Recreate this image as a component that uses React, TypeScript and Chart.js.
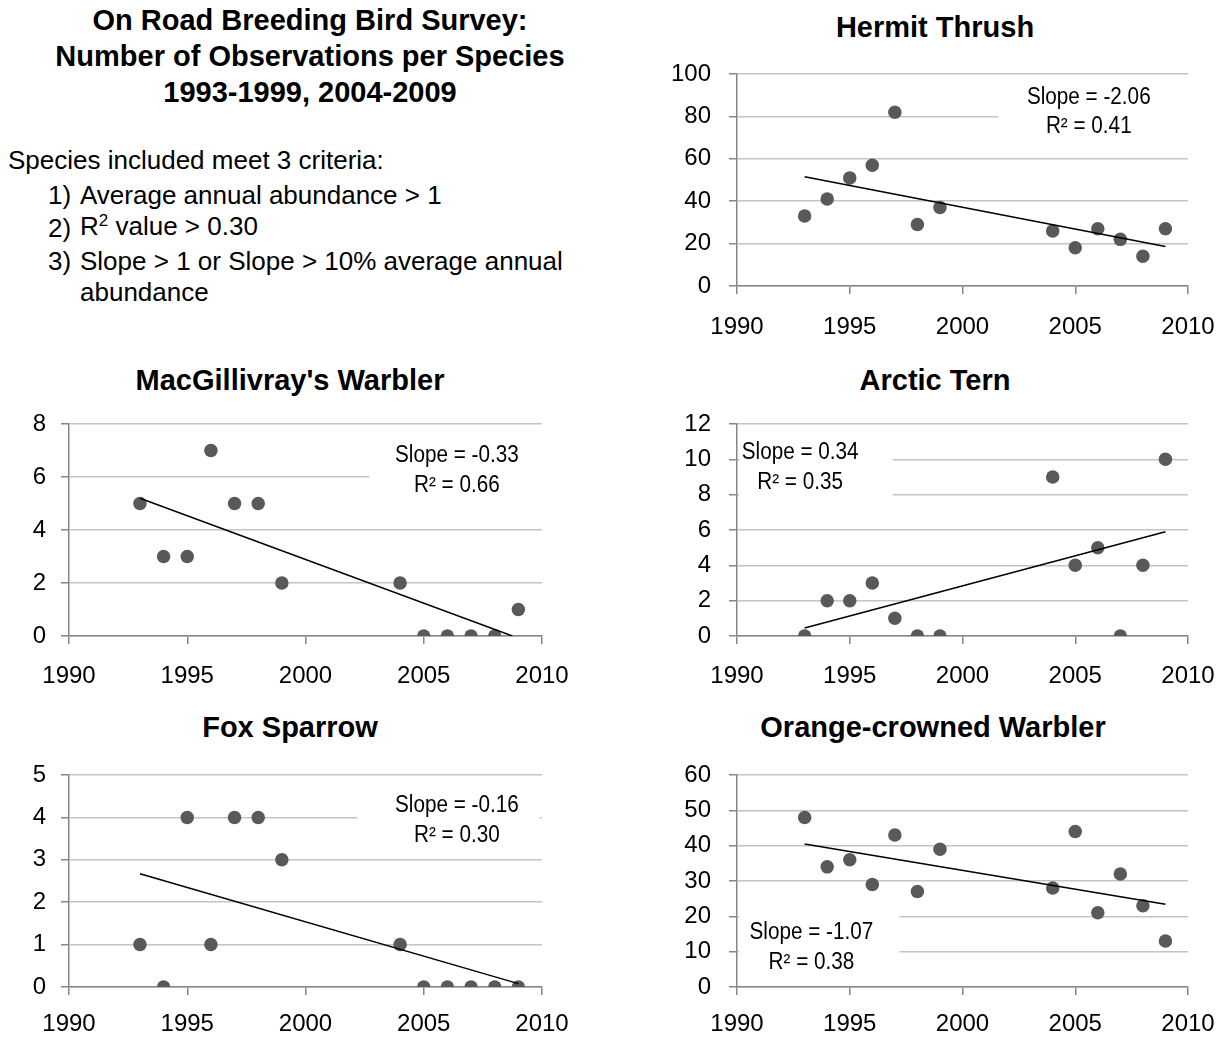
import React, { useEffect, useRef } from "react";
import { Chart, registerables } from "chart.js";

Chart.register(...registerables);

// ---------- data ----------
const years = [1993, 1994, 1995, 1996, 1997, 1998, 1999, 2004, 2005, 2006, 2007, 2008, 2009];
const hermitThrush = [33, 41, 51, 57, 82, 29, 37, 26, 18, 27, 22, 14, 27];
const macgillivraysWarbler = [5, 3, 3, 7, 5, 5, 2, 2, 0, 0, 0, 0, 1];
const arcticTern = [0, 2, 2, 3, 1, 0, 0, 9, 4, 5, 0, 4, 10];
const foxSparrow = [1, 0, 4, 1, 4, 4, 3, 1, 0, 0, 0, 0, 0];
const orangeCrownedWarbler = [48, 34, 36, 29, 43, 27, 39, 28, 44, 21, 32, 23, 13];

const xTickLabels = [1990, 1995, 2000, 2005, 2010];

// trend line end points [year, value]
const hermitTrend = [[1993, 51.5], [2009, 18.6]];
const macgillivraysTrend = [[1993, 5.2], [2008.75, 0]];
const arcticTrend = [[1993, 0.45], [2009, 5.9]];
const foxTrend = [[1993, 2.67], [2009, 0.08]];
const orangeTrend = [[1993, 40.5], [2009, 23.4]];

const FONT = '"Liberation Sans", Arial, sans-serif';
const PAD_TOP = 36;

type Panel = {
  title: string;
  values: number[];
  trend: number[][];
  yMax: number;
  yStep: number;
  slope: string;
  r2: string;
  textX: number;
  textY1: number;
  textY2: number;
  box: [number, number, number, number]; // x1, x2, y1, y2 (data coords)
  left: number;
  width: number;
  bottomSpace: number;
  xPad: number;
  yPad: number;
  plotLeft: number;
  plotRight: number;
  plotTop: number;
  plotBottom: number;
};

const panels: Panel[] = [
  {
    title: "Hermit Thrush", values: hermitThrush, trend: hermitTrend, yMax: 100, yStep: 20,
    slope: "Slope = -2.06", r2: "R² = 0.41", textX: 2005.6, textY1: 89, textY2: 75,
    box: [2001.6, 2010.5, 66, 96],
    left: 640, width: 610, bottomSpace: 62, xPad: 19, yPad: 18,
    plotLeft: 737, plotRight: 1188, plotTop: 74, plotBottom: 286,
  },
  {
    title: "MacGillivray's Warbler", values: macgillivraysWarbler, trend: macgillivraysTrend, yMax: 8, yStep: 2,
    slope: "Slope = -0.33", r2: "R² = 0.66", textX: 2006.4, textY1: 6.8, textY2: 5.66,
    box: [2002.7, 2010.5, 5.2, 7.3],
    left: 0, width: 610, bottomSpace: 60, xPad: 18, yPad: 15,
    plotLeft: 69, plotRight: 542, plotTop: 424, plotBottom: 636,
  },
  {
    title: "Arctic Tern", values: arcticTern, trend: arcticTrend, yMax: 12, yStep: 2,
    slope: "Slope = 0.34", r2: "R² = 0.35", textX: 1992.8, textY1: 10.37, textY2: 8.68,
    box: [1990.1, 1996.9, 7.3, 11.3],
    left: 640, width: 610, bottomSpace: 60, xPad: 18, yPad: 18,
    plotLeft: 737, plotRight: 1188, plotTop: 424, plotBottom: 636,
  },
  {
    title: "Fox Sparrow", values: foxSparrow, trend: foxTrend, yMax: 5, yStep: 1,
    slope: "Slope = -0.16", r2: "R² = 0.30", textX: 2006.4, textY1: 4.27, textY2: 3.56,
    box: [2002.2, 2009.9, 3.6, 4.6],
    left: 0, width: 610, bottomSpace: 51, xPad: 15, yPad: 15,
    plotLeft: 69, plotRight: 542, plotTop: 775, plotBottom: 987,
  },
  {
    title: "Orange-crowned Warbler", values: orangeCrownedWarbler, trend: orangeTrend, yMax: 60, yStep: 10,
    slope: "Slope = -1.07", r2: "R² = 0.38", textX: 1993.3, textY1: 15.5, textY2: 7.0,
    box: [1990.1, 1997.2, 5, 24],
    left: 640, width: 610, bottomSpace: 51, xPad: 15, yPad: 18,
    plotLeft: 737, plotRight: 1188, plotTop: 775, plotBottom: 987,
  },
];

const labelPlugin = {
  id: "trendLabel",
  beforeDatasetsDraw(chart: any, _args: any, opts: any) {
    const p: Panel = opts.panel;
    const { ctx, scales } = chart;
    const xs = scales.x, ys = scales.y;
    const x1 = xs.getPixelForValue(p.box[0]);
    const x2 = Math.min(xs.getPixelForValue(p.box[1]), chart.chartArea.right + 1);
    const y1 = ys.getPixelForValue(p.box[3]);
    const y2 = ys.getPixelForValue(p.box[2]);
    ctx.save();
    ctx.fillStyle = "#ffffff";
    ctx.fillRect(x1, y1, x2 - x1, y2 - y1);
    ctx.restore();
  },
  afterDatasetsDraw(chart: any, _args: any, opts: any) {
    const p: Panel = opts.panel;
    const { ctx, scales } = chart;
    const cx = scales.x.getPixelForValue(p.textX);
    const sx = 0.9;
    ctx.save();
    ctx.fillStyle = "#000";
    ctx.font = `23px ${FONT}`;
    ctx.textAlign = "center";
    ctx.textBaseline = "middle";
    ctx.translate(cx, 0);
    ctx.scale(sx, 1);
    ctx.fillText(p.slope, 0, scales.y.getPixelForValue(p.textY1));
    ctx.fillText(p.r2, 0, scales.y.getPixelForValue(p.textY2));
    ctx.restore();
  },
};

function PanelChart({ p }: { p: Panel }) {
  const ref = useRef<HTMLCanvasElement | null>(null);
  const top = p.plotTop - PAD_TOP;
  const height = p.plotBottom + p.bottomSpace - top;
  useEffect(() => {
    if (!ref.current) return;
    const yAxisW = p.plotLeft - p.left;
    const xAxisH = p.bottomSpace;
    const padRight = p.left + p.width - p.plotRight;
    const tickFont = { family: FONT, size: 24 };
    const chart = new Chart(ref.current, {
      type: "scatter",
      data: {
        datasets: [
          {
            type: "line",
            data: p.trend.map(([x, y]) => ({ x, y })),
            borderColor: "#000000",
            borderWidth: 1.5,
            pointRadius: 0,
            fill: false,
            order: 0,
          } as any,
          {
            data: years.map((x, i) => ({ x, y: p.values[i] })),
            backgroundColor: "#595959",
            borderColor: "#595959",
            borderWidth: 0,
            pointRadius: 6.75,
            order: 1,
          },
        ],
      },
      options: {
        animation: false,
        responsive: false,
        events: [],
        layout: { padding: { top: PAD_TOP, right: padRight, left: 0, bottom: 0 } },
        plugins: {
          legend: { display: false },
          tooltip: { enabled: false },
          title: { display: false },
          trendLabel: { panel: p },
        } as any,
        scales: {
          x: {
            type: "linear",
            min: 1990,
            max: 2010,
            afterBuildTicks: (s: any) => {
              s.ticks = xTickLabels.map((v) => ({ value: v }));
            },
            grid: { drawOnChartArea: false, drawTicks: true, tickLength: 8, tickColor: "#868686", lineWidth: 1.5 },
            border: { color: "#868686", width: 1.5 },
            ticks: { font: tickFont, color: "#000", padding: p.xPad, maxRotation: 0, callback: (v: any) => String(v) },
            afterFit: (s: any) => {
              s.height = xAxisH;
            },
          },
          y: {
            min: 0,
            max: p.yMax,
            grid: { color: "#c4c4c4", lineWidth: 1.5, tickColor: "#868686", tickLength: 8 },
            border: { color: "#868686", width: 1.5 },
            ticks: { stepSize: p.yStep, font: tickFont, color: "#000", padding: p.yPad },
            afterFit: (s: any) => {
              s.width = yAxisW;
            },
          },
        },
      },
      plugins: [labelPlugin],
    });
    return () => chart.destroy();
  }, [p]);
  return (
    <canvas
      ref={ref}
      width={p.width}
      height={height}
      style={{ position: "absolute", left: p.left, top, width: p.width, height }}
    />
  );
}

const titleStyle: React.CSSProperties = {
  position: "absolute",
  fontFamily: FONT,
  fontWeight: "bold",
  fontSize: 29,
  color: "#000",
  whiteSpace: "nowrap",
  transform: "translate(-50%, -50%)",
  lineHeight: "34px",
};

const chartTitles = [
  { text: "Hermit Thrush", x: 935, y: 27 },
  { text: "MacGillivray's Warbler", x: 290, y: 380 },
  { text: "Arctic Tern", x: 935, y: 380 },
  { text: "Fox Sparrow", x: 290, y: 727 },
  { text: "Orange-crowned Warbler", x: 933, y: 727 },
];

const mainTitle = [
  "On Road Breeding Bird Survey:",
  "Number of Observations per Species",
  "1993-1999, 2004-2009",
];

const criteria = [
  { num: "1)", text: "Average annual abundance > 1" },
  { num: "2)", text: "value > 0.30", r2: true },
  { num: "3)", text: "Slope > 1 or Slope > 10% average annual" },
  { num: "", text: "abundance" },
];

export default function App() {
  const textStyle: React.CSSProperties = {
    position: "absolute",
    fontFamily: FONT,
    fontSize: 26,
    color: "#000",
    whiteSpace: "nowrap",
    lineHeight: "30px",
    transform: "translateY(-50%)",
  };
  const critY = [195, 228, 261, 292];
  return (
    <div style={{ position: "absolute", left: 0, top: 0, width: 1224, height: 1038, background: "#fff", overflow: "hidden" }}>
      {mainTitle.map((t, i) => (
        <div key={t} style={{ ...titleStyle, left: 310, top: 20 + i * 36 }}>
          {t}
        </div>
      ))}
      <div style={{ ...textStyle, left: 8, top: 160 }}>Species included meet 3 criteria:</div>
      {criteria.map((c, i) => (
        <React.Fragment key={i}>
          {c.num && <div style={{ ...textStyle, left: 48, top: critY[i] }}>{c.num}</div>}
          <div style={{ ...textStyle, left: 80, top: critY[i] }}>
            {c.r2 ? (
              <>
                R<span style={{ fontSize: 17, position: "relative", top: -9 }}>2</span> {c.text}
              </>
            ) : (
              c.text
            )}
          </div>
        </React.Fragment>
      ))}
      {chartTitles.map((t) => (
        <div key={t.text} style={{ ...titleStyle, left: t.x, top: t.y }}>
          {t.text}
        </div>
      ))}
      {panels.map((p) => (
        <PanelChart key={p.title} p={p} />
      ))}
    </div>
  );
}
